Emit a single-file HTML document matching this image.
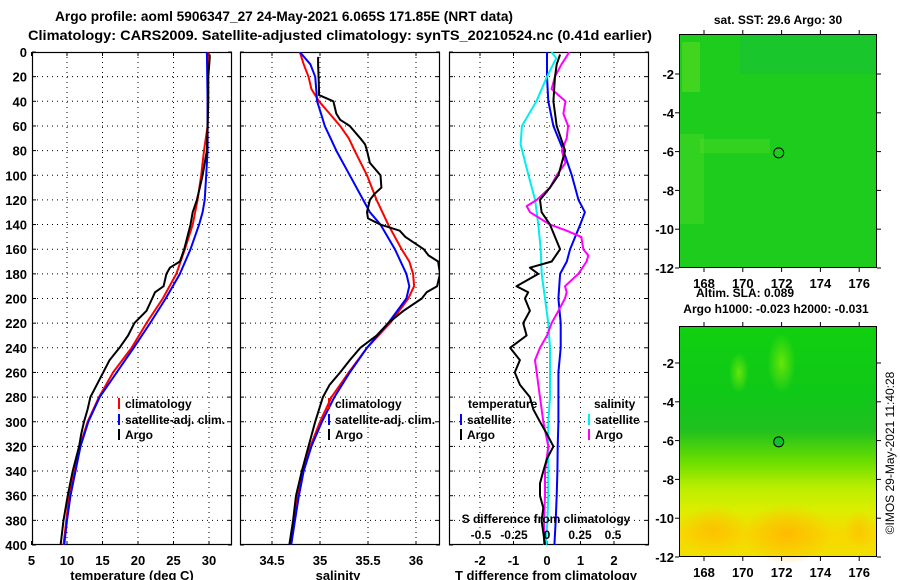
<!DOCTYPE html>
<html><head><meta charset="utf-8"><style>
html,body{margin:0;padding:0;background:#fff;}
svg{display:block;font-family:"Liberation Sans",sans-serif;font-weight:bold;}
</style></head><body>
<svg id="chart" width="900" height="580" viewBox="0 0 900 580" xmlns="http://www.w3.org/2000/svg">
<defs>
<clipPath id="c1"><rect x="32" y="52" width="200" height="493"/></clipPath>
<clipPath id="c2"><rect x="240" y="52" width="200" height="493"/></clipPath>
<clipPath id="c3"><rect x="449" y="52" width="200" height="493"/></clipPath>
<linearGradient id="slag" x1="0" y1="0" x2="0" y2="1">
<stop offset="0" stop-color="#10d010"/><stop offset="0.3" stop-color="#10c818"/><stop offset="0.45" stop-color="#20c020"/>
<stop offset="0.58" stop-color="#66dd00"/><stop offset="0.7" stop-color="#bbee00"/><stop offset="0.8" stop-color="#ddee00"/>
<stop offset="0.9" stop-color="#f8d800"/><stop offset="1" stop-color="#f0e000"/></linearGradient>
<radialGradient id="blob1"><stop offset="0" stop-color="#ffbb00"/><stop offset="1" stop-color="#ffbb00" stop-opacity="0"/></radialGradient>
<radialGradient id="blob2"><stop offset="0" stop-color="#bbff00"/><stop offset="1" stop-color="#bbff00" stop-opacity="0"/></radialGradient>
</defs>
<text x="55" y="21" font-size="14" textLength="458" lengthAdjust="spacingAndGlyphs">Argo profile: aoml 5906347_27 24-May-2021 6.065S 171.85E (NRT data)</text>
<text x="28" y="40" font-size="14" textLength="624" lengthAdjust="spacingAndGlyphs">Climatology: CARS2009. Satellite-adjusted climatology: synTS_20210524.nc (0.41d earlier)</text>
<g id="g1"></g>
<g id="g2"></g>
<g id="g3"></g>
<g id="maps"></g>
</svg>
<script>
// ---- data ----
const depthTicks = [0,20,40,60,80,100,120,140,160,180,200,220,240,260,280,300,320,340,360,380,400];
const tempTicks = [5,10,15,20,25,30];
const salTicks = [34.5,35,35.5,36];
const tdiffTicks = [-2,-1,0,1,2];
const sdiffTicks = [-0.5,-0.25,0,0.25,0.5];
const sdiffTickLabels = ["-0.5","-0.25","0","0.25","0.5"];

const tClimDepth = [0,60,80,100,120,140,160,180,200,220,240,260,280,300,320,340,360,380,400];
const tClim = [29.8,29.8,29.3,28.9,28.4,27.7,26.6,25.4,23.5,21.2,19.1,16.5,14.5,12.9,11.8,11.1,10.3,9.9,9.5];
const tSatDepth = [0,40,80,100,120,130,140,160,180,200,220,240,260,280,300,320,340,360,380,400];
const tSat = [29.7,29.8,29.8,29.6,29.4,29.1,28.6,27.4,25.9,23.9,21.7,19.4,17.0,14.6,13.0,11.9,11.2,10.5,10.0,9.6];
const tArgoDepth = [2,5,20,40,60,80,100,110,120,130,140,160,170,175,180,190,195,200,210,220,230,240,250,260,270,280,290,300,310,320,340,360,380,400];
const tArgo = [30.1,30.1,29.9,29.9,29.8,29.7,29.1,28.7,28.3,27.7,27.4,26.5,25.9,24.5,24.0,23.6,22.4,22.0,21.2,19.5,18.6,17.4,16.0,15.1,14.2,13.3,12.9,12.4,12.0,11.7,10.8,10.1,9.5,9.1];

const sClimDepth = [0,10,20,30,40,50,60,70,80,100,120,140,160,170,180,190,200,220,240,260,280,300,320,340,360,380,400];
const sClim = [34.79,34.83,34.88,34.91,34.99,35.10,35.21,35.30,35.36,35.49,35.59,35.71,35.85,35.93,35.97,35.98,35.92,35.73,35.49,35.30,35.12,35.0,34.90,34.82,34.77,34.73,34.69];
const sSatDepth = [0,10,20,30,40,50,60,70,80,100,120,130,140,160,180,190,200,220,240,260,280,300,320,340,360,380,400];
const sSat = [34.79,34.90,34.95,34.96,34.97,35.01,35.05,35.11,35.17,35.31,35.45,35.52,35.63,35.78,35.90,35.93,35.90,35.71,35.49,35.31,35.15,35.02,34.91,34.83,34.78,34.74,34.70];
const sArgoDepth = [4,10,30,35,40,50,55,60,70,75,80,90,100,110,115,120,130,135,140,145,150,160,165,170,180,190,195,200,210,220,230,240,250,260,270,280,300,320,340,360,380,400];
const sArgo = [34.98,34.98,34.99,34.99,35.14,35.17,35.21,35.31,35.42,35.47,35.49,35.52,35.63,35.64,35.57,35.52,35.49,35.50,35.63,35.83,35.89,36.08,36.13,36.23,36.25,36.22,36.11,36.06,35.87,35.71,35.59,35.42,35.31,35.21,35.10,35.03,34.95,34.88,34.81,34.75,34.72,34.68];

const dTSatDepth = [0,20,40,60,80,100,120,130,140,160,170,180,200,220,240,260,280,300,320,340,360,380,400];
const dTSat = [0,0,0.04,0.19,0.49,0.74,0.94,1.13,0.99,0.69,0.59,0.39,0.34,0.41,0.41,0.34,0.34,0.34,0.32,0.31,0.29,0.26,0.22];
const dTArgoDepth = [2,10,20,40,60,80,100,110,120,130,140,150,160,170,175,180,190,195,200,210,220,230,240,250,260,270,280,290,300,310,320,330,340,350,360,370,380,390,400];
const dTArgo = [0.39,0.29,0.24,0.19,0.29,0.54,0.34,0.09,-0.21,-0.16,0.09,0.24,0.39,0.14,-0.51,-0.26,-0.91,-0.56,-0.66,-0.51,-0.71,-0.61,-1.1,-0.81,-0.96,-0.81,-0.51,-0.41,-0.21,0,0.19,0,-0.11,-0.21,-0.21,-0.11,-0.16,-0.11,-0.06];
const dSSatDepth = [0,5,20,40,60,75,100,120,140,160,180,200,220,240,260,280,300,320,340,360,380,400];
const dSSat = [0.035,0.07,0,-0.08,-0.19,-0.2,-0.14,-0.09,-0.066,-0.048,-0.04,-0.015,0.01,0.023,0.023,0.023,0.01,0.01,0.01,0.01,0.003,-0.008];
const dSArgoDepth = [0,10,20,30,35,40,50,60,70,80,90,100,110,120,125,130,140,145,150,160,165,170,180,190,195,200,210,220,230,240,250,260,270,280,300,320,340,360,380,400];
const dSArgo = [0.17,0.11,0.06,0.035,0.086,0.14,0.124,0.16,0.149,0.111,0.14,0.073,0.023,-0.078,-0.154,-0.129,0.023,0.149,0.26,0.275,0.313,0.3,0.237,0.136,0.149,0.136,0.086,0.035,0,-0.053,-0.091,-0.078,-0.066,-0.053,-0.028,0.01,-0.015,-0.015,-0.023,-0.023];

const lonTicks = [168,170,172,174,176];
const latTicks = [-2,-4,-6,-8,-10,-12];
const floatLon = 171.85, floatLat = -6.065;

// ---- helpers ----
const NS = "http://www.w3.org/2000/svg";
function mk(tag, attrs, parent, txt){
  const e = document.createElementNS(NS, tag);
  for (const k in attrs) e.setAttribute(k, attrs[k]);
  if (txt !== undefined) e.textContent = txt;
  parent.appendChild(e);
  return e;
}
const Y0 = 52, Y1 = 545;
const yD = d => Y0 + d * (Y1 - Y0) / 400;
const xT = v => 31.5 + (v - 5) * 7.1;
const xS = v => 320 + (v - 35) * 96;
const xDT = v => 547 + v * 33.5;
const xDS = v => 547 + v * 132;

function frame(g, x0, x1, vticks, fx, labelsY){
  depthTicks.forEach(d => {
    const y = yD(d);
    if (d > 0 && d < 400) {
      const gl = mk('line', {x1:x0, x2:x1, y1:y, y2:y, stroke:'#000', 'stroke-width':1, 'stroke-dasharray':'1,4'}, g);
      
      
    }
    mk('line', {x1:x0, x2:x0+4, y1:y, y2:y, stroke:'#000'}, g);
    mk('line', {x1:x1-4, x2:x1, y1:y, y2:y, stroke:'#000'}, g);
    if (labelsY) {
      const t = mk('text', {x:27, y:y+5, 'text-anchor':'end', 'font-size':13}, g, String(d));
      
      
    }
  });
  vticks.forEach(v => {
    const x = fx(v);
    if (x > x0 + 1 && x < x1 - 1) {
      const gl = mk('line', {x1:x, x2:x, y1:Y0, y2:Y1, stroke:'#000', 'stroke-width':1, 'stroke-dasharray':'1,4'}, g);
      
      
    }
    mk('line', {x1:x, x2:x, y1:Y0, y2:Y0+4, stroke:'#000'}, g);
    mk('line', {x1:x, x2:x, y1:Y1-4, y2:Y1, stroke:'#000'}, g);
  });
  const r = mk('rect', {x:x0+0.5, y:Y0+0.5, width:x1-x0-1, height:Y1-Y0-1, fill:'none', stroke:'#000', 'stroke-width':1.2}, g);
  
  
}
function series(g, depths, vals, fx, color, clip, name, w){
  const pts = depths.map((d,i) => fx(vals[i]).toFixed(1) + ',' + yD(d).toFixed(1)).join(' ');
  const p = mk('polyline', {points:pts, fill:'none', stroke:color, 'stroke-width':w||2, 'clip-path':'url(#'+clip+')', 'stroke-linejoin':'round'}, g);
  
  
}
function xlabels(g, ticks, fx, labels, y, size){
  ticks.forEach((v,i) => {
    const t = mk('text', {x:fx(v), y:y, 'text-anchor':'middle', 'font-size':size||13}, g, labels ? labels[i] : String(v));
    
    
  });
}
function legendItem(g, x, y, color, label){
  mk('rect', {x:x, y:y-10, width:2, height:11, fill:color}, g);
  const t = mk('text', {x:x+7, y:y, 'font-size':12}, g, label);
  
  
}

// ---- panel 1 ----
const g1 = document.getElementById('g1');
frame(g1, 32, 232, tempTicks, xT, true);
series(g1, tClimDepth, tClim, xT, '#f00', 'c1', 'temperature-climatology-line');
series(g1, tSatDepth, tSat, xT, '#00f', 'c1', 'temperature-satellite-line');
series(g1, tArgoDepth, tArgo, xT, '#000', 'c1', 'temperature-argo-line');
xlabels(g1, tempTicks, xT, null, 565);
const xt1 = mk('text', {x:132, y:580, 'text-anchor':'middle', 'font-size':13}, g1, 'temperature (deg C)');
 
legendItem(g1, 118, 408, '#f00', 'climatology');
legendItem(g1, 118, 424, '#00f', 'satellite-adj. clim.');
legendItem(g1, 118, 439, '#000', 'Argo');

// ---- panel 2 ----
const g2 = document.getElementById('g2');
frame(g2, 240, 440, salTicks, xS, false);
series(g2, sClimDepth, sClim, xS, '#f00', 'c2', 'salinity-climatology-line');
series(g2, sSatDepth, sSat, xS, '#00f', 'c2', 'salinity-satellite-line');
series(g2, sArgoDepth, sArgo, xS, '#000', 'c2', 'salinity-argo-line');
xlabels(g2, salTicks, xS, null, 565);
const xt2 = mk('text', {x:338, y:580, 'text-anchor':'middle', 'font-size':13}, g2, 'salinity');
 
legendItem(g2, 328, 408, '#f00', 'climatology');
legendItem(g2, 328, 424, '#00f', 'satellite-adj. clim.');
legendItem(g2, 328, 439, '#000', 'Argo');

// ---- panel 3 ----
const g3 = document.getElementById('g3');
frame(g3, 449, 649, tdiffTicks, xDT, false);
series(g3, dTSatDepth, dTSat, xDT, '#00f', 'c3', 'tdiff-satellite-line');
series(g3, dSSatDepth, dSSat, xDS, '#0ee', 'c3', 'sdiff-satellite-line');
series(g3, dSArgoDepth, dSArgo, xDS, '#f0f', 'c3', 'sdiff-argo-line');
series(g3, dTArgoDepth, dTArgo, xDT, '#000', 'c3', 'tdiff-argo-line');
xlabels(g3, tdiffTicks, xDT, null, 565);
xlabels(g3, sdiffTicks, xDS, sdiffTickLabels, 539, 12);
const xt3 = mk('text', {x:546, y:580, 'text-anchor':'middle', 'font-size':13}, g3, 'T difference from climatology');
 
const xt3b = mk('text', {x:546, y:523, 'text-anchor':'middle', 'font-size':12}, g3, 'S difference from climatology');
 
const lt = mk('text', {x:468, y:408, 'font-size':12}, g3, 'temperature');
 
const ls = mk('text', {x:594, y:408, 'font-size':12}, g3, 'salinity');
 
legendItem(g3, 460, 424, '#00f', 'satellite');
legendItem(g3, 460, 439, '#000', 'Argo');
legendItem(g3, 588, 424, '#0ee', 'satellite');
legendItem(g3, 588, 439, '#f0f', 'Argo');

// ---- maps ----
const gm = document.getElementById('maps');
const lonX = v => 704 + (v - 168) * 19.4;
function mapFrame(y0, y1, kind){
  const lY = v => y1 - (v + 12) * 19.4;
  if (kind === 1) {
    const r = mk('rect', {x:679, y:y0, width:198, height:y1-y0, fill:'#1ecc1e'}, gm);
     
    mk('rect', {x:740, y:y0, width:137, height:40, fill:'#10b850', opacity:0.3}, gm);
    mk('rect', {x:682, y:y0+8, width:18, height:50, fill:'#66dd22', opacity:0.5}, gm);
    mk('rect', {x:700, y:y0+105, width:70, height:14, fill:'#55dd22', opacity:0.4}, gm);
    mk('rect', {x:679, y:y0+100, width:25, height:90, fill:'#55dd22', opacity:0.4}, gm);
  } else {
    const r = mk('rect', {x:679, y:y0, width:198, height:y1-y0, fill:'url(#slag)'}, gm);
     
    mk('ellipse', {cx:lonX(172.3), cy:lY(-10.8), rx:45, ry:30, fill:'url(#blob1)'}, gm);
    mk('ellipse', {cx:lonX(168.5), cy:lY(-10.6), rx:35, ry:25, fill:'url(#blob1)', opacity:0.8}, gm);
    mk('ellipse', {cx:lonX(176), cy:lY(-10.6), rx:15, ry:20, fill:'url(#blob1)', opacity:0.6}, gm);
    mk('ellipse', {cx:lonX(172), cy:lY(-2), rx:14, ry:30, fill:'url(#blob2)', opacity:0.5}, gm);
    mk('ellipse', {cx:lonX(169.8), cy:lY(-2.5), rx:10, ry:20, fill:'url(#blob2)', opacity:0.5}, gm);
  }
  const cx = lonX(floatLon), cy = lY(floatLat);
  const c = mk('circle', {cx:cx, cy:cy, r:5, fill: kind===2 ? '#10c030' : 'none', stroke:'#000', 'stroke-width':1}, gm);
   
  mk('rect', {x:679.5, y:y0+0.5, width:197, height:y1-y0-1, fill:'none', stroke:'#000'}, gm);
  lonTicks.forEach(v => {
    const x = lonX(v);
    mk('line', {x1:x, x2:x, y1:y0-4, y2:y0, stroke:'#000'}, gm);
    mk('line', {x1:x, x2:x, y1:y1, y2:y1+4, stroke:'#000'}, gm);
    const t = mk('text', {x:x, y:y1+20, 'text-anchor':'middle', 'font-size':13}, gm, String(v));
     
  });
  latTicks.forEach(v => {
    const y = lY(v);
    mk('line', {x1:675, x2:679, y1:y, y2:y, stroke:'#000'}, gm);
    mk('line', {x1:877, x2:881, y1:y, y2:y, stroke:'#000'}, gm);
    const t = mk('text', {x:674, y:y+5, 'text-anchor':'end', 'font-size':13}, gm, String(v));
     
  });
}
mapFrame(34, 268, 1);
mapFrame(326, 557, 2);
const m1 = mk('text', {x:778, y:24, 'text-anchor':'middle', 'font-size':12}, gm, 'sat. SST: 29.6 Argo: 30');
 
const m2 = mk('text', {x:745, y:297, 'text-anchor':'middle', 'font-size':12}, gm, 'Altim. SLA: 0.089');
 
const m3 = mk('text', {x:776, y:313, 'text-anchor':'middle', 'font-size':12}, gm, 'Argo h1000: -0.023 h2000: -0.031');
 
const cr = mk('text', {x:0, y:0, 'text-anchor':'middle', 'font-size':12, 'font-weight':'normal', transform:'translate(894,453) rotate(-90)'}, gm, '©IMOS 29-May-2021 11:40:28');
 
</script>
</body></html>
